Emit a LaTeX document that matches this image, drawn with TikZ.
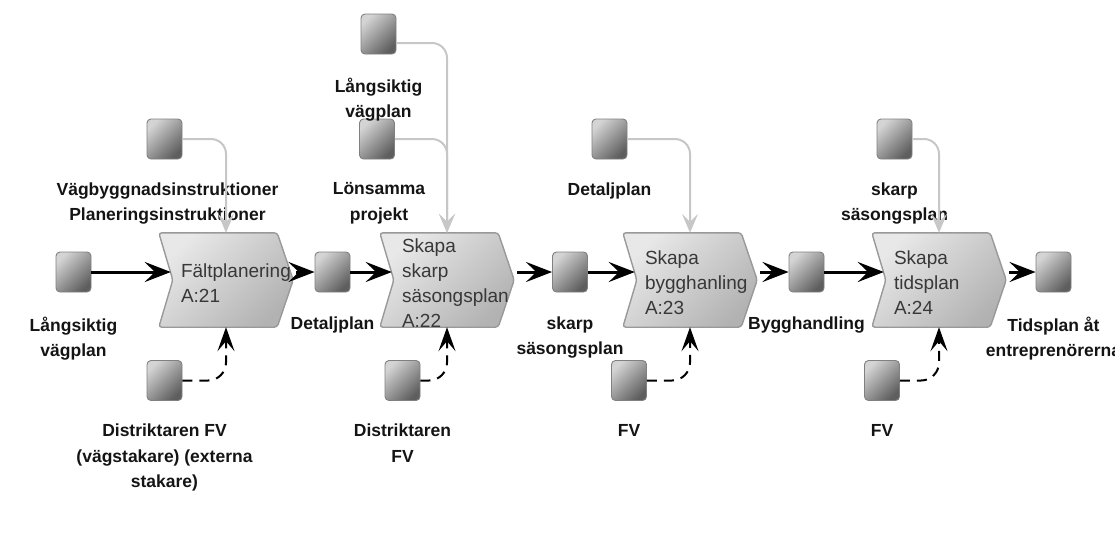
\documentclass[tikz,border=0pt]{standalone}
\usepackage{fontspec}
\setmainfont{Liberation Sans}
\usetikzlibrary{arrows.meta}

% activity box: chevron drawn on the anchors of an invisible rectangle
\newcommand\drawchevron[1]{%
  \path[chevfill] (#1.north west) -- ([xshift=-16pt]#1.north east) -- (#1.east)
    -- ([xshift=-16pt]#1.south east) -- (#1.south west) -- ([xshift=14pt]#1.west) -- cycle;}

\begin{document}
\begin{tikzpicture}[x=1pt,y=-1pt,
  obj/.style={rectangle, rounded corners=4pt, minimum width=35pt, minimum height=40pt,
    inner sep=0pt, draw=black!50, line width=0.9pt,
    top color=black!17, bottom color=black!63, shading angle=45},
  lbl/.style={anchor=north, inner sep=0pt, align=center,
    font=\fontsize{17.5}{25.5}\selectfont\bfseries, text=black!92},
  chevbox/.style={rectangle, minimum width=134pt, minimum height=94pt, inner sep=0pt},
  chevfill/.style={draw=black!40, line width=1.4pt, rounded corners=3pt,
    top color=black!9, bottom color=black!30, shading angle=45},
  chevtext/.style={anchor=west, inner sep=0pt, align=left,
    font=\fontsize{19}{25}\selectfont, text=black!78},
  flow/.style={line width=3pt, -{Stealth[length=26pt,width=20pt,inset=10pt]}},
  ctrl/.style={line width=2pt, dash pattern=on 10pt off 7pt, rounded corners=18pt,
    -{Stealth[length=24pt,width=17pt,inset=10pt]}},
  feed/.style={draw=black!22, line width=2pt, rounded corners=15pt,
    -{Stealth[length=19pt,width=16pt,inset=8pt,fill=black!22]}},
]
\useasboundingbox (0,0) rectangle (1115,536);

% activities
\node[chevbox] (c1) at (226,280) {};
\node[chevbox] (c2) at (447,280) {};
\node[chevbox] (c3) at (690,280) {};
\node[chevbox] (c4) at (939,280) {};
\drawchevron{c1}
\drawchevron{c2}
\drawchevron{c3}
\drawchevron{c4}
\node[chevtext] (c1t) at ([xshift=22pt,yshift=-3pt]c1.west) {Fältplanering\\A:21};
\node[chevtext] (c2t) at ([xshift=22pt,yshift=-3pt]c2.west) {Skapa\\skarp\\säsongsplan\\A:22};
\node[chevtext] (c3t) at ([xshift=22pt,yshift=-3pt]c3.west) {Skapa\\bygghanling\\A:23};
\node[chevtext] (c4t) at ([xshift=22pt,yshift=-3pt]c4.west) {Skapa\\tidsplan\\A:24};

% objects on the main flow
\node[obj] (s1) at (73.5,272) {};
\node[obj] (s2) at (332.5,272) {};
\node[obj] (s3) at (570,272) {};
\node[obj] (s4) at (806.5,272) {};
\node[obj] (s5) at (1053.5,272) {};
\node[lbl] (s1l) at ([yshift=-24pt]s1.south) {Långsiktig\\vägplan};
\node[lbl] (s2l) at ([yshift=-24pt]s2.south) {Detaljplan};
\node[lbl] (s3l) at ([yshift=-24pt]s3.south) {skarp\\säsongsplan};
\node[lbl] (s4l) at ([yshift=-24pt]s4.south) {Bygghandling};
\node[lbl] (s5l) at ([yshift=-24pt]s5.south) {Tidsplan åt\\entreprenörerna};

% controls above
\node[obj] (t1) at (164.5,139) {};
\node[obj] (t2a) at (378.5,34) {};
\node[obj] (t2b) at (377,139) {};
\node[obj] (t3) at (609.5,139) {};
\node[obj] (t4) at (894.5,139) {};
\node[lbl] (t1l) at ([xshift=3pt,yshift=-23pt]t1.south) {Vägbyggnadsinstruktioner\\Planeringsinstruktioner};
\node[lbl] (t2al) at ([yshift=-23pt]t2a.south) {Långsiktig\\vägplan};
\node[lbl] (t2bl) at ([xshift=2pt,yshift=-23pt]t2b.south) {Lönsamma\\projekt};
\node[lbl] (t3l) at ([yshift=-23pt]t3.south) {Detaljplan};
\node[lbl] (t4l) at ([yshift=-23pt]t4.south) {skarp\\säsongsplan};

% resources below
\node[obj] (b1) at (164.5,380.5) {};
\node[obj] (b2) at (402.5,380.5) {};
\node[obj] (b3) at (629,380.5) {};
\node[obj] (b4) at (882,380.5) {};
\node[lbl] (b1l) at ([yshift=-23pt]b1.south) {Distriktaren FV\\(vägstakare) (externa\\stakare)};
\node[lbl] (b2l) at ([yshift=-23pt]b2.south) {Distriktaren\\FV};
\node[lbl] (b3l) at ([yshift=-23pt]b3.south) {FV};
\node[lbl] (b4l) at ([yshift=-23pt]b4.south) {FV};

% control connectors
\draw[feed] (t1.east) -| (c1.north);
\draw[feed] ([yshift=-9pt]t2a.east) -| (c2.north);
\draw[feed] (t2b.east) -| (c2.north);
\draw[feed] (t3.east) -| (c3.north);
\draw[feed] (t4.east) -| (c4.north);

% resource connectors
\draw[ctrl] (b1.east) -| (c1.south);
\draw[ctrl] (b2.east) -| (c2.south);
\draw[ctrl] (b3.east) -| (c3.south);
\draw[ctrl] (b4.east) -| (c4.south);

% main flow
\draw[flow, shorten >=-12pt] (s1) -- (c1.west |- s1);
\draw[flow, shorten <=3pt] (c1.east |- s2) -- (s2);
\draw[flow, shorten >=-12pt] (s2) -- (c2.west |- s2);
\draw[flow, shorten <=3pt] (c2.east |- s3) -- (s3);
\draw[flow, shorten >=-12pt] (s3) -- (c3.west |- s3);
\draw[flow, shorten <=3pt] (c3.east |- s4) -- (s4);
\draw[flow, shorten >=-12pt] (s4) -- (c4.west |- s4);
\draw[flow, shorten <=3pt] (c4.east |- s5) -- (s5);
\end{tikzpicture}
\end{document}
